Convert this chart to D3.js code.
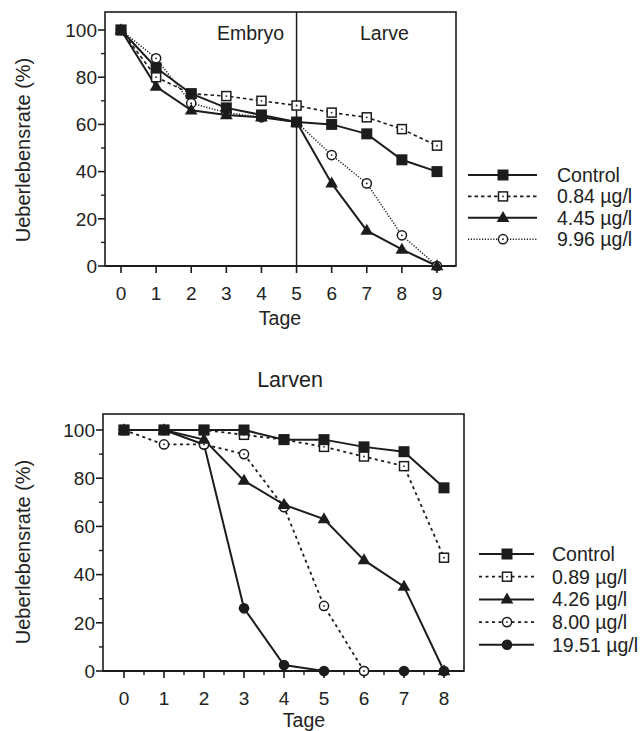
<!DOCTYPE html>
<html>
<head>
<meta charset="utf-8">
<script src="https://cdn.jsdelivr.net/npm/d3@7"></script>
<style>
  html, body { margin: 0; padding: 0; background: #fff; }
  svg text { font-family: "Liberation Sans", Arial, Helvetica, sans-serif; fill: #222; }
</style>
</head>
<body>
<svg id="chart" width="643" height="731"></svg>
<script>
// ---------- DATA ----------
const daysTop = [0, 1, 2, 3, 4, 5, 6, 7, 8, 9];
const topControl = [100, 84, 73, 67, 64, 61, 60, 56, 45, 40];
const top084 = [100, 80, 73, 72, 70, 68, 65, 63, 58, 51];
const top445 = [100, 76, 66, 64, 63, 61, 35, 15, 7, 0];
const top996 = [100, 88, 69, 65, 63, 61, 47, 35, 13, 0];
const topLabels = ["Control", "0.84 µg/l", "4.45 µg/l", "9.96 µg/l"];
const phaseLabels = ["Embryo", "Larve"];
const phaseBoundary = 5;

const daysBottom = [0, 1, 2, 3, 4, 5, 6, 7, 8];
const botControl = [100, 100, 100, 100, 96, 96, 93, 91, 76];
const bot089 = [100, 100, 100, 98, 96, 93, 89, 85, 47];
const bot426 = [100, 100, 96, 79, 69, 63, 46, 35, 0];
const bot800 = [100, 94, 94, 90, 68, 27, 0];
const bot1951 = [100, 100, 94, 26, 2.5, 0, 0, 0, 0];
const botLabels = ["Control", "0.89 µg/l", "4.26 µg/l", "8.00 µg/l", "19.51 µg/l"];
const bottomTitle = "Larven";

const yTicks = [0, 20, 40, 60, 80, 100];
const yMinorTicks = [10, 30, 50, 70, 90];
const xLabel = "Tage";
const yLabel = "Ueberlebensrate (%)";

// ---------- DRAW ----------
const svg = d3.select("#chart");
const ink = "#1c1c1c";

function zip(xs, ys) { return ys.map((v, i) => [xs[i], v]); }

function drawMarker(g, type, cx, cy) {
  if (type === "fsq") {
    g.append("rect").attr("x", cx - 5.5).attr("y", cy - 5.5).attr("width", 11).attr("height", 11).attr("fill", ink);
  } else if (type === "osq") {
    g.append("rect").attr("x", cx - 4.5).attr("y", cy - 4.5).attr("width", 9).attr("height", 9)
      .attr("fill", "#fff").attr("stroke", ink).attr("stroke-width", 1.5);
    g.append("circle").attr("cx", cx).attr("cy", cy).attr("r", 0.9).attr("fill", ink);
  } else if (type === "tri") {
    g.append("path").attr("transform", `translate(${cx},${cy + 0.5})`)
      .attr("d", d3.symbol().type(d3.symbolTriangle).size(70)()).attr("fill", ink);
  } else if (type === "ocir") {
    g.append("circle").attr("cx", cx).attr("cy", cy).attr("r", 4.6)
      .attr("fill", "#fff").attr("stroke", ink).attr("stroke-width", 1.5);
    g.append("circle").attr("cx", cx).attr("cy", cy).attr("r", 0.9).attr("fill", ink);
  } else if (type === "fcir") {
    g.append("circle").attr("cx", cx).attr("cy", cy).attr("r", 5.3).attr("fill", ink);
  }
}

function drawPanel(cfg) {
  const g = svg.append("g");
  const x = d3.scaleLinear().domain([0, cfg.days[cfg.days.length - 1]]).range(cfg.xRange);
  const y = d3.scaleLinear().domain([0, 100]).range(cfg.yRange);
  const b = cfg.box;

  // frame
  g.append("rect").attr("x", b.l).attr("y", b.t).attr("width", b.r - b.l).attr("height", b.b - b.t)
    .attr("fill", "none").attr("stroke", ink).attr("stroke-width", 1.6);
  g.append("line").attr("x1", b.l).attr("x2", b.r).attr("y1", b.b).attr("y2", b.b)
    .attr("stroke", ink).attr("stroke-width", 2);

  // y ticks
  yTicks.forEach(t => {
    g.append("line").attr("x1", b.l - 7).attr("x2", b.l).attr("y1", y(t)).attr("y2", y(t))
      .attr("stroke", ink).attr("stroke-width", 1.6);
    g.append("text").attr("x", b.l - 8).attr("y", y(t)).attr("dy", "0.36em")
      .attr("text-anchor", "end").attr("font-size", 19).text(t);
  });
  yMinorTicks.forEach(t => {
    g.append("line").attr("x1", b.l - 4).attr("x2", b.l).attr("y1", y(t)).attr("y2", y(t))
      .attr("stroke", ink).attr("stroke-width", 1.4);
  });
  // x ticks
  cfg.days.forEach(d => {
    g.append("line").attr("x1", x(d)).attr("x2", x(d)).attr("y1", b.b).attr("y2", b.b + 7)
      .attr("stroke", ink).attr("stroke-width", 1.6);
    g.append("text").attr("x", x(d)).attr("y", cfg.tickBase).attr("text-anchor", "middle")
      .attr("font-size", 19).text(d);
  });
  if (cfg.halfTicks) {
    cfg.days.slice(0, -1).forEach(d => {
      g.append("line").attr("x1", x(d + 0.5)).attr("x2", x(d + 0.5)).attr("y1", b.b).attr("y2", b.b + 4)
        .attr("stroke", ink).attr("stroke-width", 1.4);
    });
  }
  // axis titles
  g.append("text").attr("x", cfg.xTitle[0]).attr("y", cfg.xTitle[1]).attr("text-anchor", "middle")
    .attr("font-size", 19.5).text(xLabel);
  g.append("text").attr("transform", `translate(${cfg.yTitle[0]},${cfg.yTitle[1]}) rotate(-90)`)
    .attr("text-anchor", "middle").attr("dy", "0.35em").attr("font-size", 20).text(yLabel);

  if (cfg.extra) cfg.extra(g, x, y);

  // series
  const line = d3.line().x(d => x(d[0])).y(d => y(d[1]));
  cfg.series.slice().reverse().forEach(s => {
    const pts = zip(cfg.days, s.values);
    g.append("path").datum(pts).attr("d", line).attr("fill", "none").attr("stroke", ink)
      .attr("stroke-width", s.width).attr("stroke-dasharray", s.dash || null);
  });
  cfg.series.slice().reverse().forEach(s => {
    zip(cfg.days, s.values).forEach(p => drawMarker(g, s.marker, x(p[0]), y(p[1])));
  });

  // legend
  const L = cfg.legend;
  cfg.series.forEach((s, i) => {
    const yy = L.y0 + i * L.dy;
    g.append("line").attr("x1", L.x1).attr("x2", L.x2).attr("y1", yy).attr("y2", yy)
      .attr("stroke", ink).attr("stroke-width", s.width).attr("stroke-dasharray", s.dash || null);
    drawMarker(g, s.marker, L.xm, yy);
    g.append("text").attr("x", L.xt).attr("y", yy).attr("dy", "0.36em").attr("font-size", 19.5).text(s.label);
  });
}

// top panel
drawPanel({
  days: daysTop,
  xRange: [121, 437],
  yRange: [266, 30],
  box: { l: 105, r: 456, t: 12, b: 266 },
  tickBase: 300,
  xTitle: [280, 325],
  yTitle: [23, 150],
  halfTicks: false,
  series: [
    { label: topLabels[0], values: topControl, marker: "fsq", width: 2 },
    { label: topLabels[1], values: top084, marker: "osq", width: 1.6, dash: "3.5,3" },
    { label: topLabels[2], values: top445, marker: "tri", width: 2 },
    { label: topLabels[3], values: top996, marker: "ocir", width: 1.5, dash: "1.2,1.6" }
  ],
  legend: { x1: 468, x2: 537, xm: 503, xt: 557, y0: 175, dy: 21.4 },
  extra: (g, x, y) => {
    g.append("line").attr("x1", x(phaseBoundary)).attr("x2", x(phaseBoundary))
      .attr("y1", 12).attr("y2", 266).attr("stroke", ink).attr("stroke-width", 1.5);
    g.append("text").attr("x", 217).attr("y", 40).attr("font-size", 19.5).text(phaseLabels[0]);
    g.append("text").attr("x", 360).attr("y", 40).attr("font-size", 19.5).text(phaseLabels[1]);
  }
});

// bottom panel
drawPanel({
  days: daysBottom,
  xRange: [124, 444],
  yRange: [671, 430],
  box: { l: 103, r: 464, t: 414, b: 671 },
  tickBase: 705,
  xTitle: [304, 727],
  yTitle: [23, 552],
  halfTicks: true,
  series: [
    { label: botLabels[0], values: botControl, marker: "fsq", width: 2 },
    { label: botLabels[1], values: bot089, marker: "osq", width: 1.8, dash: "3,3.5" },
    { label: botLabels[2], values: bot426, marker: "tri", width: 2 },
    { label: botLabels[3], values: bot800, marker: "ocir", width: 1.8, dash: "3,3.5" },
    { label: botLabels[4], values: bot1951, marker: "fcir", width: 2 }
  ],
  legend: { x1: 479, x2: 534, xm: 507, xt: 552, y0: 554, dy: 22.7 },
  extra: (g) => {
    g.append("text").attr("x", 290).attr("y", 387).attr("text-anchor", "middle")
      .attr("font-size", 21.5).text(bottomTitle);
  }
});
</script>
</body>
</html>
